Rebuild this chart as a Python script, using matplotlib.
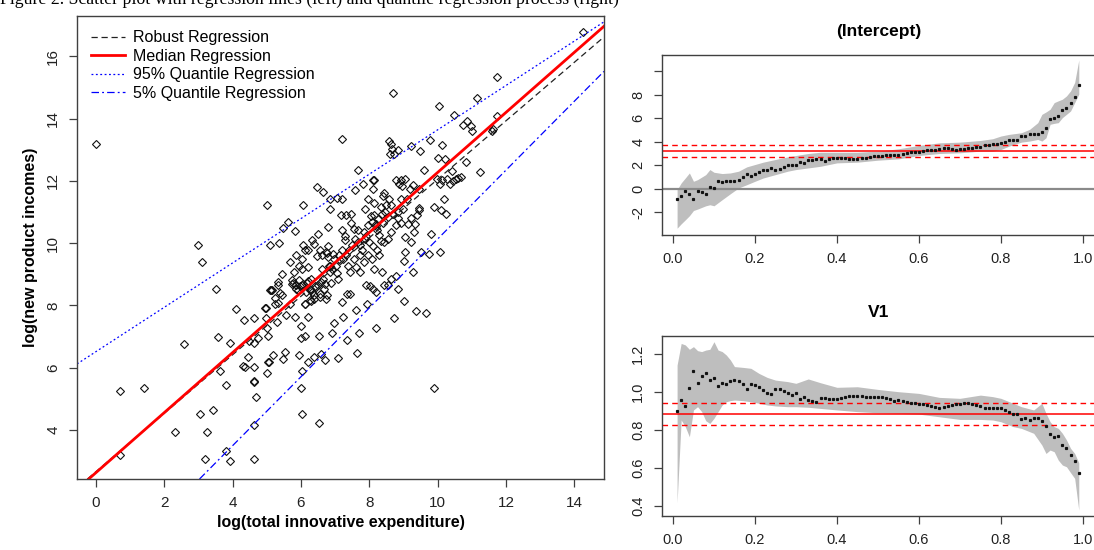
import matplotlib
matplotlib.use('Agg')
import matplotlib.pyplot as plt
import numpy as np

plt.rcParams['font.family'] = ['Liberation Sans', 'DejaVu Sans']

# ---- left panel: scatter (log expenditure, log income) ----
x_exp = [3.52, 4.10, 4.33, 4.62, 4.97, 4.97, 5.02, 5.04, 5.14, 5.34, 5.32, 5.31, 5.44, 5.57, 5.83,
         6.00, 6.00, 6.12, 6.21, 6.13, 6.39, 6.53, 6.77, 6.88, 6.90, 6.97, 7.20, 7.22, 7.35, 7.34,
         7.60, 7.64, 7.70, 7.94, 8.01, 8.10, 8.21, 8.43, 8.72, 9.01, 9.37, 9.67, 9.91, 2.59, 3.59,
         3.93, 3.62, 3.80, 4.45, 4.49, 4.62, 4.76, 4.32, 4.38, 4.62, 4.62, 4.64, 4.70, 5.02, 5.08,
         5.18, 5.49, 5.55, 5.94, 6.04, 6.00, 6.02, 6.21, 6.39, 6.59, 6.71, 7.08, 6.52, 0.70, 1.42,
         0.70, 2.32, 3.05, 3.44, 3.25, 3.19, 3.80, 3.93, 4.62, 4.62, 5.05,
         0.00, 3.00, 3.10, 5.02, 5.09, 5.37, 5.46, 5.48, 5.62, 5.82, 6.06, 6.06, 6.48, 6.39, 6.50,
         6.66, 6.79, 6.85, 6.85, 7.06, 7.18, 7.20, 7.20, 7.29, 7.47, 7.58, 7.67, 7.55, 7.81, 7.87,
         7.96, 8.13, 8.15, 8.34, 8.39, 8.44, 8.59, 8.65, 8.73, 8.83, 8.86, 8.94, 9.06, 9.23, 9.29,
         9.41, 9.47, 9.50, 9.60, 9.79, 9.81, 9.91, 10.02, 10.05, 10.08, 10.14, 10.20, 10.26, 10.28, 10.37,
         10.43, 10.49, 10.55, 10.82, 11.24, 11.73, 9.04, 9.23, 9.06, 9.52, 9.76, 10.07, 9.01, 8.77, 6.85,
         7.08, 6.30, 6.62, 6.74, 6.79, 5.17, 5.34, 5.74, 5.81, 6.02, 6.04, 6.21, 6.62,
         14.26, 8.71, 11.73, 11.15, 10.73, 10.87, 10.99, 11.02, 11.60, 11.63, 10.23, 9.99, 10.13, 10.45, 10.60,
         10.68, 10.11,
         5.87, 5.92, 6.07, 6.16, 6.27, 6.39, 6.50, 6.56, 6.64, 6.71, 6.74, 6.81, 6.91, 6.97, 7.03,
         7.11, 7.20, 7.22, 7.32, 7.38, 7.41, 7.49, 7.55, 7.58, 7.67, 7.72, 7.78, 7.84, 7.87, 7.96,
         7.99, 8.07, 8.13, 8.19, 8.22, 8.27, 8.30, 8.36, 8.40, 8.46, 8.50, 8.54, 8.59, 8.65, 8.71,
         7.43, 7.61, 7.72, 7.84, 7.96, 8.07, 8.13, 8.22, 8.30, 8.42, 8.54, 8.65, 8.77, 8.83, 8.92,
         9.00, 9.12, 9.18, 5.75, 5.87, 5.95, 6.04, 6.21, 6.33, 6.45, 6.60, 6.68, 6.56, 6.27, 8.36,
         8.54, 8.65, 8.83, 8.19, 7.90, 7.43, 9.29, 5.87, 5.95, 6.13, 5.69, 6.33, 6.21,
         8.67, 8.62, 8.11, 8.11, 7.21, 8.78, 8.97, 9.46, 9.46, 9.23, 9.13, 9.35, 8.84, 8.94, 9.32,
         7.33, 7.47, 7.67, 7.91, 8.06, 8.21, 8.35, 7.28, 7.72, 8.11,
         6.76, 6.95, 7.14, 6.85, 7.05, 6.46, 6.56, 6.80, 5.78, 5.97, 6.17, 6.26, 6.41, 6.31, 6.11,
         5.09, 5.24, 5.39, 4.94, 5.24, 5.69]
y_inc = [8.54, 7.88, 7.52, 7.59, 7.91, 7.59, 7.27, 7.01, 8.51, 8.75, 8.09, 7.48, 8.34, 7.70, 7.64,
         7.35, 6.94, 7.01, 7.64, 8.03, 8.22, 7.03, 8.32, 8.73, 7.12, 7.44, 8.11, 7.62, 8.36, 6.89,
         7.84, 6.47, 7.12, 8.03, 8.63, 8.52, 7.27, 8.67, 7.59, 8.14, 7.82, 7.74, 5.33, 6.75, 6.98,
         6.78, 5.88, 5.44, 6.35, 6.84, 6.78, 6.94, 6.05, 6.01, 6.01, 5.54, 5.56, 5.04, 5.82, 6.19,
         6.42, 6.28, 6.49, 6.41, 5.89, 5.33, 4.50, 6.19, 6.35, 6.44, 6.25, 6.31, 4.23, 5.25, 5.33,
         3.18, 3.94, 4.52, 4.64, 3.94, 3.07, 3.31, 2.99, 4.15, 3.07, 6.17,
         13.20, 9.93, 9.41, 11.23, 9.93, 10.01, 9.02, 10.48, 10.68, 10.39, 11.23, 9.93, 11.80, 9.96, 10.30,
         11.64, 10.52, 11.43, 11.11, 11.46, 10.91, 13.34, 10.43, 10.11, 10.95, 11.70, 12.36, 10.46, 11.91, 11.11,
         11.43, 12.02, 11.30, 11.16, 11.53, 11.61, 13.27, 13.20, 12.87, 12.98, 11.91, 12.02, 12.07, 13.11, 11.88,
         10.89, 11.75, 12.95, 12.34, 13.30, 10.30, 11.16, 12.74, 14.41, 11.91, 13.14, 11.43, 10.95, 12.07, 11.91,
         12.31, 14.11, 12.07, 12.61, 12.29, 14.09, 10.20, 10.03, 9.71, 9.71, 9.66, 9.71, 9.44, 8.96, 9.07,
         8.86, 8.86, 9.61, 9.71, 9.55, 8.48, 8.64, 8.80, 9.07, 9.18, 9.50, 9.23, 9.18,
         16.77, 14.81, 15.35, 14.65, 13.81, 13.91, 13.75, 13.59, 13.59, 13.68, 12.72, 12.05, 12.02, 12.00, 12.08,
         12.12, 11.05,
         8.64, 8.48, 8.69, 8.43, 8.53, 8.32, 8.64, 8.37, 8.86, 8.69, 8.21, 9.28, 9.18, 9.50, 9.28,
         9.61, 9.77, 9.50, 9.61, 9.28, 9.77, 9.93, 9.50, 10.14, 10.03, 9.61, 9.77, 10.36, 10.14, 10.57,
         10.03, 10.68, 10.89, 10.62, 10.41, 10.78, 10.25, 10.95, 10.66, 11.00, 11.21, 10.84, 11.43, 11.21, 10.95,
         9.07, 9.23, 9.07, 9.39, 9.61, 9.50, 9.18, 9.77, 9.61, 10.03, 10.14, 10.36, 10.57, 11.00, 11.43,
         11.11, 11.43, 11.75, 8.70, 8.54, 8.81, 8.65, 8.78, 8.43, 8.59, 8.75, 8.54, 8.27, 8.16, 9.07,
         8.64, 8.86, 8.53, 8.43, 8.64, 8.37, 9.07, 9.61, 9.28, 9.77, 9.39, 10.09, 9.77,
         13.04, 12.85, 12.02, 11.75, 11.42, 12.04, 11.83, 11.14, 11.08, 10.81, 10.60, 10.60, 10.81, 10.65, 10.35,
         10.92, 10.65, 10.43, 10.22, 10.86, 10.54, 10.06, 10.22, 9.95, 9.90,
         9.69, 9.64, 9.47, 9.26, 9.05, 9.59, 9.79, 9.90, 8.72, 8.61, 8.72, 8.51, 8.61, 8.13, 8.03,
         8.51, 8.24, 8.40, 7.92, 8.03, 8.03]

# fitted lines (intercept, slope)
robust_fit = (2.65, 0.94)
median_fit = (2.62, 0.965)
q95_fit = (6.51, 0.713)
q05_fit = (-0.94, 1.107)

# ---- right panels: quantile process ----
taus = np.arange(1, 100) / 100
int_est = [-0.89, -0.66, -0.17, -0.46, -0.89, -0.17, -0.31, -0.43, 0.11, 0.06,
           0.66, 0.60, 0.66, 0.66, 0.66, 0.77, 1.00, 1.26, 1.11, 1.29,
           1.40, 1.57, 1.63, 1.74, 1.63, 1.69, 1.83, 2.00, 2.06, 2.06,
           2.29, 2.20, 2.43, 2.43, 2.49, 2.49, 2.40, 2.49, 2.60, 2.60,
           2.60, 2.60, 2.54, 2.49, 2.57, 2.60, 2.63, 2.66, 2.77, 2.77,
           2.77, 2.83, 2.91, 2.91, 2.91, 3.00, 3.06, 3.11, 3.11, 3.14,
           3.20, 3.26, 3.29, 3.34, 3.40, 3.43, 3.46, 3.40, 3.34, 3.37,
           3.40, 3.46, 3.49, 3.54, 3.57, 3.71, 3.74, 3.77, 3.80, 3.86,
           3.97, 4.11, 4.17, 4.17, 4.49, 4.49, 4.66, 4.66, 4.66, 4.86,
           5.20, 5.97, 6.06, 6.20, 6.69, 6.91, 7.34, 7.86, 8.83]
int_band_tau = [0.01, 0.02, 0.03, 0.04, 0.05, 0.06, 0.08, 0.09, 0.10, 0.12, 0.14, 0.16, 0.18, 0.20, 0.22,
                0.25, 0.28, 0.30, 0.33, 0.36, 0.40, 0.45, 0.50, 0.55, 0.60, 0.65, 0.70, 0.75, 0.78, 0.80,
                0.82, 0.85, 0.87, 0.89, 0.90, 0.91, 0.92, 0.93, 0.94, 0.95, 0.96, 0.97, 0.98, 0.99]
int_lo = [-3.37, -3.0, -2.66, -2.31, -1.86, -1.74, -1.46, -1.37, -1.46, -0.94, -0.43, 0.06, 0.34, 0.63, 0.91,
          1.2, 1.49, 1.63, 1.77, 1.91, 2.2, 2.26, 2.43, 2.54, 2.83, 3.0, 3.06, 3.2, 3.2, 3.34,
          3.63, 3.97, 4.06, 4.2, 4.06, 4.34, 5.49, 5.57, 5.63, 6.06, 6.34, 6.63, 7.34, 8.06]
int_hi = [-0.09, 0.49, 0.91, 1.34, 0.63, 0.77, 1.2, 1.63, 1.4, 1.29, 1.34, 1.49, 1.86, 2.06, 2.26,
          2.49, 2.71, 2.83, 3.0, 3.11, 3.11, 3.11, 3.2, 3.4, 3.69, 3.91, 3.97, 4.11, 4.26, 4.49,
          4.63, 4.77, 5.06, 5.63, 6.34, 6.54, 6.77, 7.34, 7.49, 7.63, 7.91, 8.34, 9.06, 10.97]
int_ols = (3.19, 2.72, 3.70)  # estimate, lower, upper

v1_est = [0.898, 0.956, 0.926, 1.018, 1.111, 1.044, 1.082, 1.098, 1.061, 1.074,
          1.030, 1.044, 1.040, 1.058, 1.061, 1.058, 1.039, 1.016, 1.040, 1.033,
          1.026, 1.009, 0.995, 0.986, 1.012, 1.012, 1.004, 0.991, 0.982, 0.991,
          0.960, 0.970, 0.956, 0.953, 0.947, 0.965, 0.968, 0.961, 0.961, 0.960,
          0.965, 0.972, 0.977, 0.977, 0.977, 0.977, 0.974, 0.970, 0.970, 0.970,
          0.970, 0.965, 0.960, 0.953, 0.956, 0.953, 0.947, 0.942, 0.939, 0.935,
          0.933, 0.930, 0.925, 0.921, 0.916, 0.918, 0.925, 0.930, 0.933, 0.935,
          0.939, 0.939, 0.935, 0.930, 0.925, 0.916, 0.912, 0.912, 0.912, 0.912,
          0.904, 0.891, 0.882, 0.882, 0.854, 0.863, 0.851, 0.863, 0.863, 0.847,
          0.821, 0.775, 0.760, 0.767, 0.719, 0.702, 0.667, 0.635, 0.570]
v1_band_tau = [0.01, 0.02, 0.03, 0.04, 0.05, 0.06, 0.07, 0.08, 0.09, 0.10, 0.11, 0.12, 0.13, 0.14, 0.15,
               0.17, 0.19, 0.21, 0.23, 0.25, 0.28, 0.30, 0.33, 0.36, 0.40, 0.45, 0.50, 0.55, 0.60, 0.65,
               0.70, 0.75, 0.78, 0.80, 0.83, 0.85, 0.88, 0.90, 0.91, 0.92, 0.93, 0.94, 0.95, 0.96, 0.97,
               0.98, 0.99]
v1_lo = [0.416, 0.851, 0.816, 0.763, 0.904, 0.921, 0.895, 0.847, 0.833, 0.860, 0.895, 0.930, 0.947, 0.953, 0.956,
         0.953, 0.947, 0.939, 0.930, 0.925, 0.921, 0.921, 0.918, 0.912, 0.904, 0.895, 0.889, 0.886, 0.882, 0.868,
         0.854, 0.854, 0.851, 0.842, 0.816, 0.807, 0.781, 0.719, 0.675, 0.693, 0.684, 0.640, 0.614, 0.605, 0.574,
         0.544, 0.377]
v1_hi = [1.14, 1.254, 1.246, 1.223, 1.237, 1.216, 1.211, 1.219, 1.223, 1.263, 1.219, 1.211, 1.193, 1.167, 1.132,
         1.128, 1.123, 1.096, 1.075, 1.061, 1.053, 1.044, 1.067, 1.047, 1.023, 1.026, 1.012, 1.000, 0.991, 0.970,
         0.965, 0.982, 0.974, 0.965, 0.939, 0.921, 0.904, 0.939, 0.886, 0.842, 0.816, 0.807, 0.781, 0.746, 0.702,
         0.675, 0.626]
v1_ols = (0.881, 0.825, 0.942)

caption = "Figure 2. Scatter plot with regression lines (left) and quantile regression process (right)"

fig = plt.figure(figsize=(10.94, 5.5), dpi=100)
# caption of the scanned page, cut off at the top edge as in the source
fig.text(0.0, 1 - 4 / 550, caption, family='Liberation Serif', fontsize=12.8,
         ha='left', va='baseline')

spine_col = '#404040'


def style_axes(ax, fs):
    for s in ax.spines.values():
        s.set_color(spine_col)
        s.set_linewidth(1.0)
    ax.tick_params(direction='out', length=6, width=0.9, color=spine_col,
                   labelsize=fs, pad=6, labelcolor='#222222')
    ax.tick_params(axis='y', labelrotation=90)
    for lab in ax.get_yticklabels():
        lab.set_verticalalignment('center')


# left panel
ax = fig.add_axes([77 / 1094, 71 / 550, 527 / 1094, 463 / 550])
ax.plot(x_exp, y_inc, linestyle='none', marker='D', markersize=3.8,
        markerfacecolor='none', markeredgecolor='#111111', markeredgewidth=0.8)
ax.axline((0, robust_fit[0]), slope=robust_fit[1], color='#222222', lw=0.9,
          dashes=(5, 3), label='Robust Regression')
ax.axline((0, median_fit[0]), slope=median_fit[1], color='red', lw=2.0,
          label='Median Regression')
ax.axline((0, q95_fit[0]), slope=q95_fit[1], color='blue', lw=0.9,
          dashes=(1.5, 2), label='95% Quantile Regression')
ax.axline((0, q05_fit[0]), slope=q05_fit[1], color='blue', lw=0.9,
          dashes=(6, 2.5, 1.5, 2.5), label='5% Quantile Regression')
ax.set_xlim(-0.55, 14.87)
ax.set_ylim(2.42, 17.3)
ax.set_xticks(range(0, 15, 2))
ax.set_yticks(range(4, 17, 2))
style_axes(ax, 11)
ax.set_xlabel('log(total innovative expenditure)', fontsize=11.5, fontweight='bold', labelpad=4)
ax.set_ylabel('log(new product incomes)', fontsize=11.5, fontweight='bold', labelpad=6)
leg = ax.legend(loc='upper left', bbox_to_anchor=(0.0, 1.0), frameon=False, fontsize=11.5,
                handlelength=2.1, handletextpad=0.5, labelspacing=0.22, borderaxespad=0.5)

# right panels
panels = [
    ('(Intercept)', 55, int_est, int_band_tau, int_lo, int_hi, int_ols,
     (-3.95, 11.4), [-2, 0, 2, 4, 6, 8, 10], ['-2', '0', '2', '4', '6', '8', ''], True),
    ('V1', 336, v1_est, v1_band_tau, v1_lo, v1_hi, v1_ols,
     (0.346, 1.293), [0.4, 0.6, 0.8, 1.0, 1.2], ['0.4', '0.6', '0.8', '1.0', '1.2'], False),
]
for title, top_px, est, btau, lo, hi, ols, ylim, yt, ytl, zero in panels:
    rax = fig.add_axes([662 / 1094, (550 - top_px - 180) / 550, 434 / 1094, 180 / 550])
    rax.fill_between(btau, lo, hi, color='#bebebe', lw=0)
    if zero:
        rax.axhline(0, color='#8a8a8a', lw=1.6)
    rax.axhline(ols[0], color='red', lw=1.1)
    rax.axhline(ols[1], color='red', lw=1.0, dashes=(4, 3))
    rax.axhline(ols[2], color='red', lw=1.0, dashes=(4, 3))
    rax.plot(taus, est, linestyle='none', marker='s', markersize=1.3, color='#111111')
    rax.set_xlim(-0.0268, 1.032)
    rax.set_ylim(*ylim)
    rax.set_xticks([0.0, 0.2, 0.4, 0.6, 0.8, 1.0])
    rax.set_xticklabels(['0.0', '0.2', '0.4', '0.6', '0.8', '1.0'])
    rax.set_yticks(yt)
    rax.set_yticklabels(ytl)
    style_axes(rax, 10.5)
    rax.set_title(title, fontsize=12.5, fontweight='bold', pad=14)

fig.savefig('out.png', dpi=100)
